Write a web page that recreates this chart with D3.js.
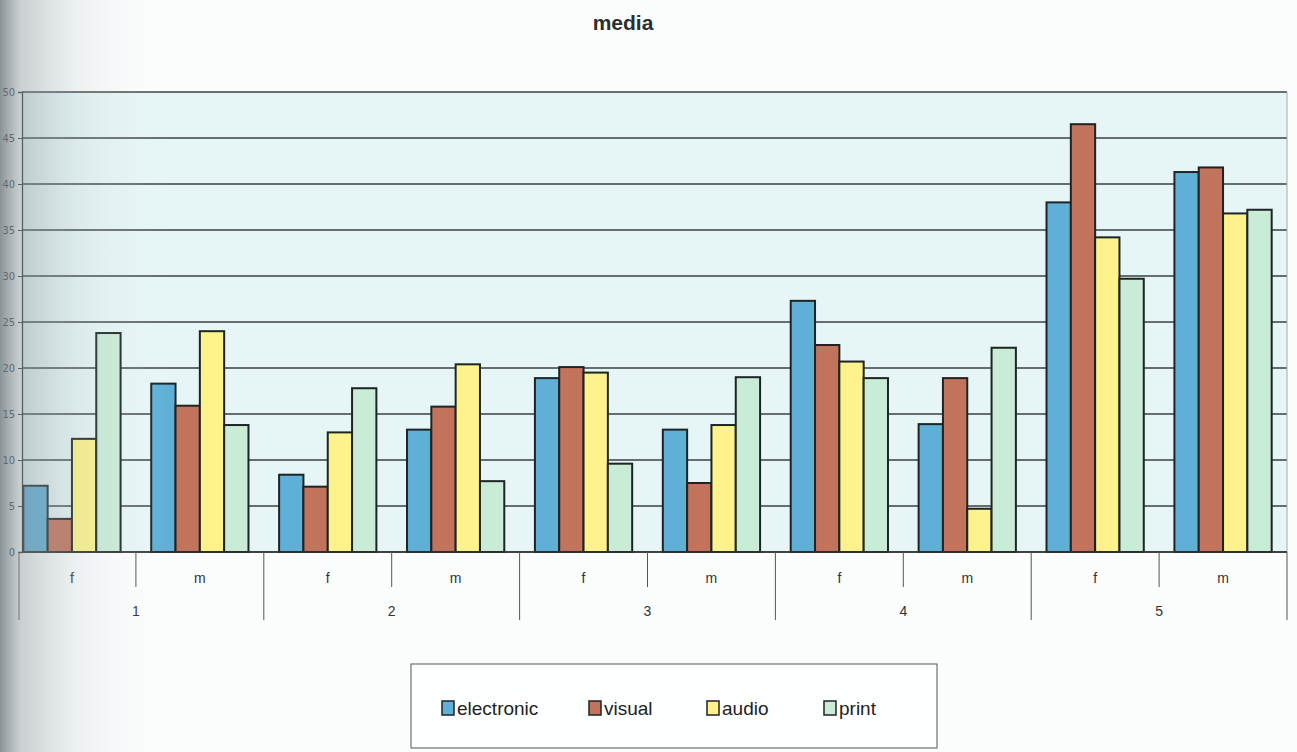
<!DOCTYPE html>
<html><head><meta charset="utf-8">
<script src="https://cdn.jsdelivr.net/npm/d3@7"></script>
<style>html,body{margin:0;padding:0;background:#fff;}svg{display:block;}</style>
</head><body>
<svg id="c" width="1297" height="752"></svg>
<script>
const groups = ["1","2","3","4","5"];
const sexes = ["f","m"];
const series = ["electronic","visual","audio","print"];
const colors = ["#5fb0d6","#c2735c","#fdf28c","#c8ecd6"];
// values per subgroup (1f,1m,2f,2m,...)
const electronic = [7.2,18.3,8.4,13.3,18.9,13.3,27.3,13.9,38.0,41.3];
const visual     = [3.6,15.9,7.1,15.8,20.1,7.5,22.5,18.9,46.5,41.8];
const audio      = [12.3,24.0,13.0,20.4,19.5,13.8,20.7,4.7,34.2,36.8];
const print      = [23.8,13.8,17.8,7.7,9.6,19.0,18.9,22.2,29.7,37.2];
const yTicks = [0,5,10,15,20,25,30,35,40,45,50];
const title = "media";

const svg = d3.select("#c");
const defs = svg.append("defs");
const lg = defs.append("linearGradient").attr("id","shade").attr("x1","0").attr("x2","1").attr("y1","0").attr("y2","0");
lg.append("stop").attr("offset","0").attr("stop-color","#6d787c").attr("stop-opacity",0.8);
lg.append("stop").attr("offset","0.12").attr("stop-color","#8c989c").attr("stop-opacity",0.45);
lg.append("stop").attr("offset","0.45").attr("stop-color","#a9b6bb").attr("stop-opacity",0.18);
lg.append("stop").attr("offset","1").attr("stop-color","#ffffff").attr("stop-opacity",0);
svg.append("rect").attr("x",0).attr("y",0).attr("width",1297).attr("height",752).attr("fill","#fbfdfd");

const pL = 22, pR = 1287, pT = 92, pB = 552;
const subKeys = [];
groups.forEach(g => sexes.forEach(s => subKeys.push(g + "|" + s)));
const x = d3.scaleBand().domain(subKeys).range([8, pR]).paddingInner(0).paddingOuter(0);
const xInner = d3.scaleBand().domain(series).range([0, x.bandwidth()]).paddingOuter(0.63).paddingInner(0);
const y = d3.scaleLinear().domain([0,50]).range([pB, pT]);
const vals = [electronic, visual, audio, print];

svg.append("rect").attr("x",pL).attr("y",pT).attr("width",pR-pL).attr("height",pB-pT).attr("fill","#e6f5f5");

svg.append("g").selectAll("line").data(yTicks).join("line")
  .attr("x1",pL).attr("x2",pR).attr("y1",d=>y(d)).attr("y2",d=>y(d))
  .attr("stroke","#3a3f40").attr("stroke-width",1.3);
svg.append("line").attr("x1",pR).attr("x2",pR).attr("y1",pT).attr("y2",pB).attr("stroke","#9aaeae").attr("stroke-width",1);

const yAxis = d3.axisLeft(y).tickValues(yTicks).tickSize(4).tickPadding(3);
const ya = svg.append("g").attr("transform",`translate(${pL},0)`).call(yAxis);
ya.select(".domain").attr("stroke","#333").attr("stroke-width",1.3);
ya.selectAll(".tick line").attr("stroke","#333");
ya.selectAll(".tick text")
  .attr("font-family","'Liberation Sans Narrow','DejaVu Sans Condensed',sans-serif")
  .attr("font-size",11).attr("fill","#333");

const bars = [];
subKeys.forEach((k,i) => series.forEach((s,j) => bars.push({k, s, j, v: vals[j][i]})));
svg.append("g").selectAll("rect").data(bars).join("rect")
  .attr("x", d => x(d.k) + xInner(d.s))
  .attr("width", xInner.bandwidth())
  .attr("y", d => y(d.v))
  .attr("height", d => y(0) - y(d.v))
  .attr("fill", d => colors[d.j])
  .attr("stroke","#1e2424").attr("stroke-width",2);

svg.append("line").attr("x1",pL).attr("x2",pR).attr("y1",pB).attr("y2",pB).attr("stroke","#333").attr("stroke-width",1.5);

const ax = svg.append("g");
groups.forEach(g => {
  const xb = x(g+"|m");
  ax.append("line").attr("x1",xb).attr("x2",xb).attr("y1",pB).attr("y2",587).attr("stroke","#555").attr("stroke-width",1);
});
const bounds = [x(subKeys[0])+11].concat(groups.map(g => x(g+"|m") + x.bandwidth()));
bounds.forEach(b => ax.append("line").attr("x1",b).attr("x2",b).attr("y1",pB).attr("y2",620).attr("stroke","#555").attr("stroke-width",1));
subKeys.forEach(k => {
  ax.append("text").attr("x", x(k) + x.bandwidth()/2).attr("y",583)
    .attr("text-anchor","middle").attr("font-family","'Liberation Sans',Arial,sans-serif").attr("font-size",14).attr("fill","#333")
    .text(k.split("|")[1]);
});
groups.forEach(g => {
  const cx = (x(g+"|f") + x(g+"|m") + x.bandwidth())/2;
  ax.append("text").attr("x", cx).attr("y",616)
    .attr("text-anchor","middle").attr("font-family","'Liberation Sans',Arial,sans-serif").attr("font-size",14).attr("fill","#333")
    .text(g);
});

svg.append("text").attr("x",623).attr("y",30).attr("text-anchor","middle")
  .attr("font-family","'Liberation Sans',Arial,sans-serif").attr("font-weight","bold").attr("font-size",21).attr("fill","#2a2f30")
  .text(title);

svg.append("rect").attr("x",411).attr("y",664).attr("width",526).attr("height",84).attr("fill","#fdfefe").attr("stroke","#555").attr("stroke-width",1);
const legX = [442, 589, 707, 824];
const lgG = svg.append("g").selectAll("g").data(series).join("g").attr("transform",(d,i)=>`translate(${legX[i]},708)`);
lgG.append("rect").attr("x",0).attr("y",-7).attr("width",12).attr("height",14).attr("fill",(d,i)=>colors[i]).attr("stroke","#222").attr("stroke-width",1.5);
lgG.append("text").attr("x",15).attr("y",7).attr("font-family","'Liberation Sans',Arial,sans-serif").attr("font-size",19).attr("fill","#222").text(d=>d);

// scan shadow on the left edge
svg.append("rect").attr("x",0).attr("y",0).attr("width",170).attr("height",752).attr("fill","url(#shade)").attr("pointer-events","none");
</script>
</body></html>
